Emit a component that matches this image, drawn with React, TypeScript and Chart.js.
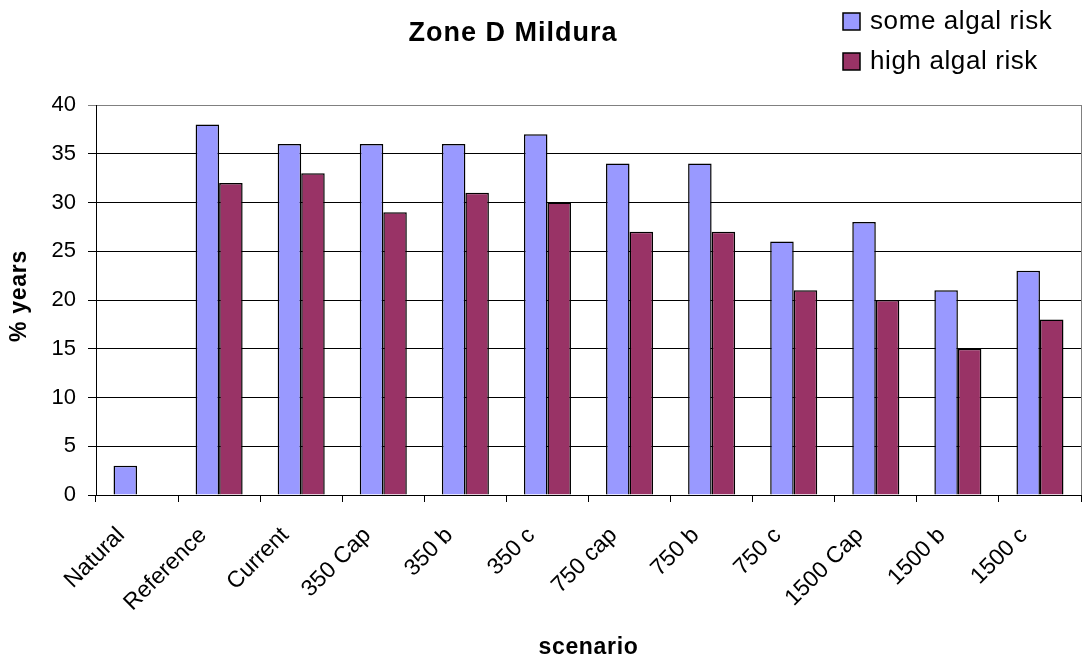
import React, { useEffect, useRef } from "react";
import { Chart, registerables } from "chart.js";

Chart.register(...registerables);

const categories = ["Natural", "Reference", "Current", "350 Cap", "350 b", "350 c", "750 cap", "750 b", "750 c", "1500 Cap", "1500 b", "1500 c"];
const someAlgalRisk = [3, 38, 36, 36, 36, 37, 34, 34, 26, 28, 21, 23];
const highAlgalRisk = [null, 32, 33, 29, 31, 30, 27, 27, 21, 20, 15, 18];
const seriesNames = ["some algal risk", "high algal risk"];
const seriesColors = ["#9999FF", "#993366"];
const chartTitle = "Zone D Mildura";
const xTitle = "scenario";
const yTitle = "% years";

const FONT = "'Liberation Sans', Arial, sans-serif";

const decorPlugin = {
  id: "decor",
  beforeDatasetsDraw(chart: any) {
    const { ctx, chartArea } = chart;
    ctx.save();
    ctx.strokeStyle = "#808080";
    ctx.lineWidth = 1;
    ctx.beginPath();
    ctx.moveTo(Math.round(chartArea.right) + 0.5, chartArea.top);
    ctx.lineTo(Math.round(chartArea.right) + 0.5, chartArea.bottom);
    ctx.stroke();
    ctx.restore();
  },
  afterDraw(chart: any) {
    const { ctx, chartArea } = chart;
    ctx.save();
    ctx.fillStyle = "#000";
    ctx.textAlign = "center";
    ctx.textBaseline = "middle";
    // title
    ctx.font = `bold 27px ${FONT}`;
    (ctx as any).letterSpacing = "1px";
    ctx.fillText(chartTitle, 513, 34);
    // x title
    ctx.font = `bold 23px ${FONT}`;
    (ctx as any).letterSpacing = "0.7px";
    ctx.fillText(xTitle, (chartArea.left + chartArea.right) / 2, 648);
    // y title
    ctx.save();
    ctx.translate(20, (chartArea.top + chartArea.bottom) / 2 - 4);
    ctx.rotate(-Math.PI / 2);
    ctx.fillText(yTitle, 0, 0);
    ctx.restore();
    // legend
    ctx.textAlign = "left";
    ctx.font = `26px ${FONT}`;
    (ctx as any).letterSpacing = "0.6px";
    const rows = [21, 61];
    for (let i = 0; i < 2; i++) {
      const cy = rows[i];
      ctx.fillStyle = seriesColors[i];
      ctx.fillRect(843, cy - 8, 17, 17);
      ctx.strokeStyle = "#000";
      ctx.lineWidth = 1.5;
      ctx.strokeRect(843, cy - 8, 17, 17);
      ctx.fillStyle = "#000";
      ctx.fillText(seriesNames[i], 870, cy + 1);
    }
    (ctx as any).letterSpacing = "0px";
    ctx.restore();
  },
};

export default function App() {
  const ref = useRef<HTMLCanvasElement>(null);
  useEffect(() => {
    document.body.style.margin = "0";
    const chart = new Chart(ref.current as HTMLCanvasElement, {
      type: "bar",
      data: {
        labels: categories,
        datasets: [
          {
            label: seriesNames[0],
            data: someAlgalRisk,
            backgroundColor: seriesColors[0],
            borderColor: "#000",
            borderWidth: 1.5,
            categoryPercentage: 0.573,
            barPercentage: 1,
          },
          {
            label: seriesNames[1],
            data: highAlgalRisk as any,
            backgroundColor: seriesColors[1],
            borderColor: "#000",
            borderWidth: 1.5,
            categoryPercentage: 0.573,
            barPercentage: 1,
          },
        ],
      },
      options: {
        animation: false,
        responsive: true,
        maintainAspectRatio: false,
        layout: { padding: { top: 105, right: 1, left: 0, bottom: 0 } },
        plugins: {
          legend: { display: false },
          title: { display: false },
          tooltip: { enabled: false },
        },
        scales: {
          x: {
            offset: true,
            grid: {
              offset: true,
              drawOnChartArea: false,
              drawTicks: true,
              tickLength: 7,
              color: "#000",
            },
            border: { color: "#000", width: 1 },
            ticks: {
              color: "#000",
              font: { family: FONT, size: 23 },
              minRotation: 45,
              maxRotation: 45,
              autoSkip: false,
              padding: 20,
              labelOffset: -16,
            },
            afterFit: (scale: any) => {
              scale.height = 169;
            },
          },
          y: {
            min: 0,
            max: 40,
            grid: {
              color: (c: any) => (c.tick && c.tick.value === 40 ? "#808080" : "#000"),
              tickLength: 8,
              drawTicks: true,
            },
            border: { color: "#000", width: 1 },
            ticks: {
              stepSize: 5,
              color: "#000",
              font: { family: FONT, size: 22 },
              padding: 12,
            },
            afterFit: (scale: any) => {
              scale.width = 96;
            },
          },
        },
      },
      plugins: [decorPlugin],
    });
    return () => chart.destroy();
  }, []);
  return (
    <div style={{ width: 1082, height: 664, position: "relative" }}>
      <canvas ref={ref} />
    </div>
  );
}
